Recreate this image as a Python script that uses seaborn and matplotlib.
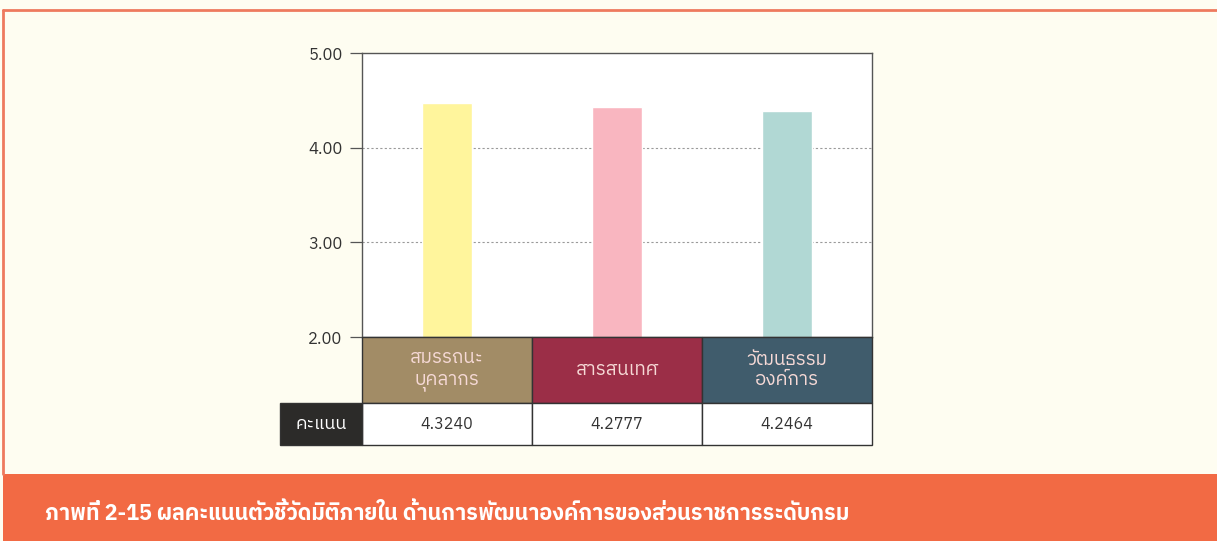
import matplotlib
matplotlib.use("Agg")
import matplotlib.pyplot as plt
import seaborn as sns
from matplotlib import font_manager as fm
from matplotlib.ft2font import FT2Font
from matplotlib.patches import Rectangle

# ข้อมูล
categories = ["สมรรถนะ\nบุคลากร", "สารสนเทศ", "วัฒนธรรม\nองค์การ"]
bar_heights = [4.47, 4.43, 4.39]          # ความสูงแท่งตามที่เห็นในภาพ
score_labels = ["4.3240", "4.2777", "4.2464"]
row_label = "คะแนน"
y_ticks = [2.0, 3.0, 4.0, 5.0]
caption = "ภาพที่ 2-15 ผลคะแนนตัวชี้วัดมิติภายใน ด้านการพัฒนาองค์การของส่วนราชการระดับกรม"

bar_colors = ["#FFF59C", "#F9B6C0", "#B1D8D4"]
cell_colors = ["#A28C66", "#9B2E47", "#405C6C"]

# หาฟอนต์ที่มีอักษรไทย
thai_font = None
for f in sorted(fm.fontManager.ttflist, key=lambda f: "Thai" not in f.name):
    try:
        if FT2Font(f.fname).get_char_index(ord("ก")):
            thai_font = f.name
            break
    except Exception:
        pass

sns.set_theme(style="white")
families = ([thai_font] if thai_font else []) + ["DejaVu Sans"]
plt.rcParams["font.family"] = families

W, H = 1217, 541
fig = plt.figure(figsize=(W / 100, H / 100), dpi=100, facecolor="#FEFDF1")

def fbox(x0, y0, x1, y1):
    # พิกเซล (บน-ซ้าย) -> สัดส่วนของรูป
    return [x0 / W, 1 - y1 / H, (x1 - x0) / W, (y1 - y0) / H]

# กรอบสีส้มและแถบคำบรรยาย
fig.add_artist(plt.Line2D([3 / W, 1], [1 - 10 / H] * 2, color="#EE7A5E", lw=2))
fig.add_artist(plt.Line2D([3 / W] * 2, [1 - 10 / H, 1 - 474 / H], color="#EE7A5E", lw=2))
fig.add_artist(Rectangle((3 / W, 0), 1, 1 - 474 / H, transform=fig.transFigure,
                         facecolor="#F26A44", edgecolor="none"))
fig.text(45 / W, 1 - 513 / H, caption, color="white", fontsize=15.5, fontweight="bold",
         va="center", ha="left")

# กราฟแท่ง
ax = fig.add_axes(fbox(362, 53, 872, 337))
ax.set_facecolor("white")
sns.barplot(x=categories, y=bar_heights, hue=categories, palette=bar_colors,
            saturation=1, width=0.29, legend=False, ax=ax, zorder=2)
ax.set_ylim(2, 5)
ax.set_yticks(y_ticks)
ax.set_yticklabels([f"{v:.2f}" for v in y_ticks], fontsize=12, color="#333333")
ax.set_xticks([])
ax.set_xlabel("")
ax.set_ylabel("")
for v in y_ticks[1:-1]:
    ax.axhline(v, color="#9A9A9A", lw=0.8, ls=(0, (2, 2)), zorder=1)
for s in ax.spines.values():
    s.set_color("#555555")
    s.set_linewidth(1.0)
ax.tick_params(axis="y", length=9, width=0.9, color="#555555", left=True, pad=5)

# ตารางด้านล่าง
tab = fig.add_axes(fbox(280, 337, 872, 445))
tab.set_xlim(-0.5 - 82 / 170, 2.5)
tab.set_ylim(0, 108)
tab.axis("off")
for i, (cat, sc) in enumerate(zip(categories, score_labels)):
    tab.add_patch(Rectangle((i - 0.5, 42), 1, 66, facecolor=cell_colors[i],
                            edgecolor="#333333", lw=1, clip_on=False))
    tab.add_patch(Rectangle((i - 0.5, 0), 1, 42, facecolor="white",
                            edgecolor="#333333", lw=1, clip_on=False))
    tab.text(i, 75, cat, ha="center", va="center", color="#F6D9D6",
             fontsize=13.5, linespacing=1.2)
    tab.text(i, 21, sc, ha="center", va="center", color="#333333", fontsize=11.5)
tab.add_patch(Rectangle((-0.5 - 82 / 170, 0), 82 / 170, 42, facecolor="#2C2B29",
                        edgecolor="#333333", lw=1, clip_on=False))
tab.text(-0.5 - 41 / 170, 21, row_label, ha="center", va="center", color="white",
         fontsize=13)

fig.savefig("out.png", dpi=100, facecolor=fig.get_facecolor())
